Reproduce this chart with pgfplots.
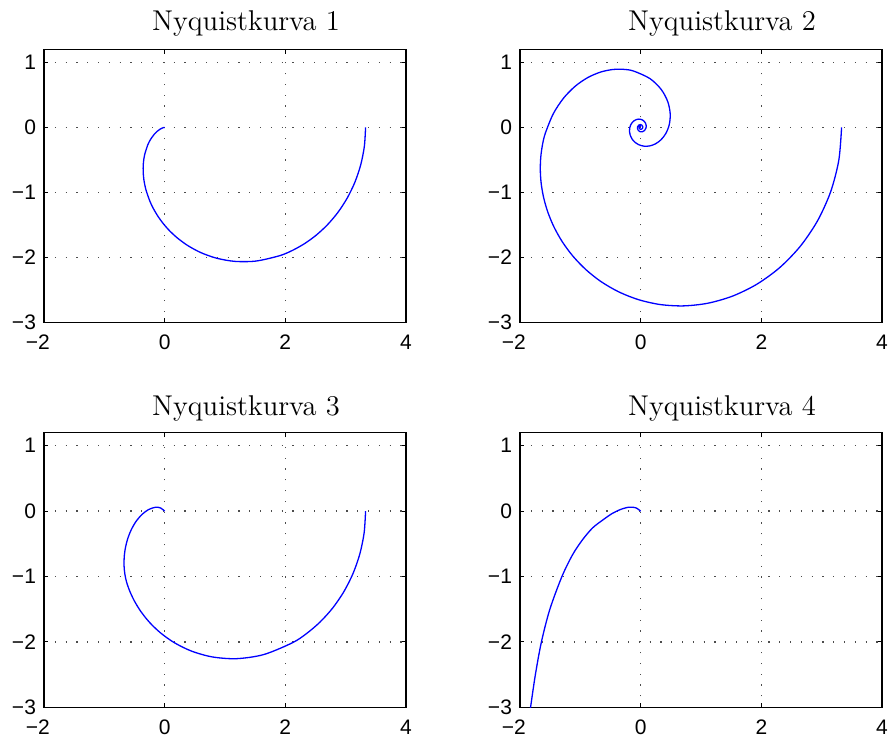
\documentclass[border=0pt]{standalone}
\usepackage{fontspec}
\usepackage{pgfplots}
\pgfplotsset{compat=1.18}
\newfontfamily\ticksans{Liberation Sans}

\pgfplotsset{
  nyq/.style={
    scale only axis, width=181pt,
    xmin=-2, xmax=4, ymin=-3, ymax=1.2,
    xtick={-2,0,2,4}, ytick={-3,-2,-1,0,1},
    xticklabels={{\llap{−}2},0,2,4},
    yticklabels={−3,−2,−1,0,1},
    ticklabel style={font=\ticksans\fontsize{10.5pt}{12pt}\selectfont},
    xticklabel style={yshift=-2.7pt},
    yticklabel style={xshift=-0.5pt},
    tick align=inside, major tick length=2.2pt,
    major tick style={black, line width=0.5pt},
    axis line style={line width=0.75pt},
    grid=major,
    major grid style={black!70, line width=0.7pt, dash pattern=on 0.6pt off 4.8pt},
    every axis title/.style={at={(0.5,1)}, anchor=base, yshift=9.6pt, xshift=10.5pt,
      font=\fontsize{14.3pt}{16pt}\selectfont},
    anchor=south west,
  },
  curve/.style={blue, line width=0.65pt, smooth, no markers},
}

\begin{document}
\begin{tikzpicture}
\useasboundingbox (0,0) rectangle (444.5pt,371pt);

% G1(s) = 3.33/((1+s)(1+2.5s))
\begin{axis}[nyq, at={(22pt,209.65pt)}, height=136.7pt, title={Nyquistkurva 1}]
\addplot[curve] table {
3.3300 0
3.3098 -0.2901
3.2502 -0.5724
3.1539 -0.8397
3.0255 -1.0861
2.8704 -1.3068
2.6946 -1.4990
2.5044 -1.6611
2.3054 -1.7931
2.1030 -1.8961
1.9017 -1.9721
1.5153 -2.0530
1.1656 -2.0582
0.8612 -2.0095
0.6035 -1.9251
0.3899 -1.8193
0.2156 -1.7026
0.0753 -1.5821
-0.0362 -1.4629
-0.1238 -1.3479
-0.1917 -1.2389
-0.2437 -1.1371
-0.3111 -0.9559
-0.3445 -0.8038
-0.3564 -0.6775
-0.3548 -0.5732
-0.3453 -0.4871
-0.3311 -0.4160
-0.2795 -0.2672
-0.2305 -0.1793
-0.1677 -0.1003
-0.1251 -0.0611
-0.0756 -0.0272
-0.0354 -0.0084
-0.0131 -0.0018
0 0
};
\end{axis}

% G1(s) with a dead time: spiral into the origin
\begin{axis}[nyq, at={(260pt,209.65pt)}, height=136.7pt, title={Nyquistkurva 2}]
\addplot[curve] table {
3.3300 0
3.2840 -0.5044
3.1486 -0.9889
2.9315 -1.4350
2.6446 -1.8273
2.3029 -2.1550
1.9224 -2.4109
1.5190 -2.5929
1.1097 -2.7016
0.7063 -2.7421
0.3204 -2.7208
-0.0387 -2.6455
-0.3666 -2.5251
-0.6588 -2.3680
-0.9096 -2.1835
-1.1222 -1.9786
-1.2970 -1.7600
-1.4343 -1.5345
-1.5371 -1.3068
-1.6076 -1.0814
-1.6487 -0.8623
-1.6635 -0.6522
-1.6555 -0.4524
-1.6271 -0.2650
-1.5812 -0.0924
-1.4482 0.2099
-1.2757 0.4524
-1.0799 0.6367
-0.8740 0.7671
-0.6683 0.8489
-0.4705 0.8884
-0.2861 0.8921
-0.1192 0.8663
0.1540 0.7498
0.3424 0.5807
0.4506 0.3918
0.4897 0.2071
0.4740 0.0429
0.4183 -0.0913
0.3364 -0.1907
0.2412 -0.2547
0.1431 -0.2857
0.0504 -0.2877
-0.0307 -0.2661
-0.0962 -0.2269
-0.1440 -0.1761
-0.1734 -0.1195
-0.1853 -0.0619
-0.1816 -0.0078
-0.1649 0.0393
-0.1381 0.0776
-0.1046 0.1051
-0.0679 0.1215
-0.0304 0.1273
0.0048 0.1231
0.0356 0.1106
0.0604 0.0917
0.0783 0.0683
0.0888 0.0425
0.0919 0.0164
0.0883 -0.0082
0.0649 -0.0474
0.0288 -0.0672
-0.0087 -0.0663
-0.0378 -0.0483
-0.0525 -0.0207
-0.0514 0.0081
-0.0323 0.0346
-0.0039 0.0430
0.0214 0.0333
0.0343 0.0121
0.0319 -0.0106
0.0174 -0.0258
-0.0019 -0.0288
-0.0178 -0.0202
-0.0246 -0.0048
-0.0210 0.0105
0.0042 0.0202
};
\end{axis}

% short dead time
\begin{axis}[nyq, at={(22pt,17.35pt)}, height=137.3pt, title={Nyquistkurva 3},
  every axis title/.append style={yshift=-0.8pt}]
\addplot[curve] table {
3.3300 0
3.3059 -0.3314
3.2349 -0.6534
3.1202 -0.9574
2.9674 -1.2359
2.7832 -1.4835
2.5747 -1.6967
2.3492 -1.8740
2.1149 -2.0143
1.6410 -2.1938
1.1915 -2.2564
0.7895 -2.2297
0.4448 -2.1406
0.1588 -2.0112
-0.0724 -1.8592
-0.2548 -1.6972
-0.3956 -1.5337
-0.5014 -1.3747
-0.5785 -1.2237
-0.6322 -1.0826
-0.6600 -0.9610
-0.6730 -0.8370
-0.6710 -0.7070
-0.6520 -0.5680
-0.6130 -0.4230
-0.5540 -0.2850
-0.4750 -0.1580
-0.3730 -0.0480
-0.2650 0.0250
-0.1510 0.0600
-0.0660 0.0480
0 0
};
\end{axis}

% with integral action
\begin{axis}[nyq, at={(260pt,17.35pt)}, height=137.3pt, title={Nyquistkurva 4},
  every axis title/.append style={yshift=-0.8pt}]
\addplot[curve] table {
-1.839 -3.10
-1.825 -3.00
-1.745 -2.50
-1.645 -2.00
-1.505 -1.50
-1.305 -1.00
-1.127 -0.664
-0.961 -0.434
-0.795 -0.255
-0.620 -0.130
-0.470 -0.035
-0.332 0.026
-0.194 0.061
-0.083 0.052
0 0
};
\end{axis}
\end{tikzpicture}
\end{document}
